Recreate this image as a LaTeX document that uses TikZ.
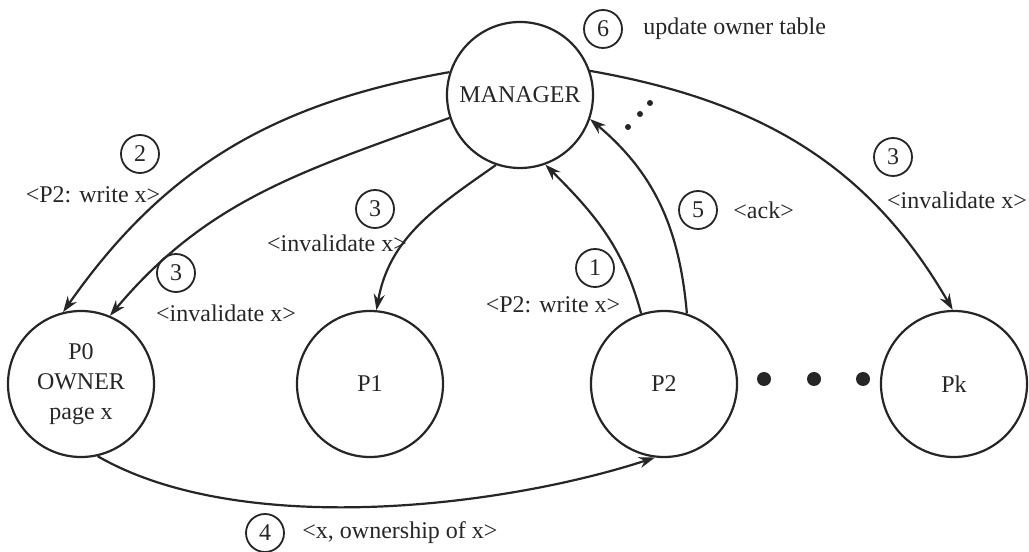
\documentclass[tikz,border=0pt]{standalone}
\usepackage{fontspec}
\setmainfont{Liberation Serif}
\usepackage{xcolor}
\usetikzlibrary{arrows.meta}

\tikzset{proc/.style={draw, circle, line width=1.1pt, minimum size=73pt, inner sep=0pt, align=center, font=\fontsize{12}{15}\selectfont},
num/.style={draw, circle, line width=0.9pt, minimum size=19pt, inner sep=0pt, font=\fontsize{12}{14}\selectfont},
msg/.style={inner sep=0pt, font=\fontsize{12}{14}\selectfont},
arr/.style={-{Stealth[length=8pt,width=5.5pt]}, line width=1.1pt}}

\begin{document}
\begin{tikzpicture}[x=0.5pt,y=0.5pt,black!85]
\useasboundingbox (0,0) rectangle (1029,552);

\node[proc] (mgr) at (520,457) {MANAGER};
\node[proc] (p0) at (81,168) {P0\\OWNER\\page x};
\node[proc] (p1) at (370,168) {P1};
\node[proc] (p2) at (664,168) {P2};
\node[proc] (pk) at (954,168) {Pk};

\fill (764,173) circle (7);
\fill (814,173) circle (7);
\fill (863,173) circle (7);

\fill (650,449) circle (3);
\fill (640,438) circle (3);
\fill (628,425) circle (3);


\draw[arr] (mgr.162) to[out=190,in=55] (p0.104);
\draw[arr] (mgr.198) to[out=200,in=50] (p0.67);
\draw[arr] (mgr.251) to[out=215,in=80] (p1.85);
\draw[arr] (p2.108) to[out=105,in=-45] (mgr.290);
\draw[arr] (p2.72) to[out=95,in=-40] (mgr.341);
\draw[arr] (mgr.19) to[out=-10,in=120] (pk.91);
\draw[arr] (p0.283) to[out=-30,in=198,looseness=0.75] (p2.263);

\node[num] (n1) at (595,284) {1};
\node[msg] (m1) at (553,247) {<P2: write x>};

\node[num] (n2) at (140,398) {2};
\node[msg] (m2) at (93,357) {<P2: write x>};

\node[num] (n3a) at (176,279) {3};
\node[msg] (m3a) at (226,239) {<invalidate x>};

\node[num] (n3b) at (375,343) {3};
\node[msg] (m3b) at (337,309) {<invalidate x>};

\node[num] (n3c) at (893,395) {3};
\node[msg] (m3c) at (957,352) {<invalidate x>};

\node[num] (n4) at (265,19) {4};
\node[msg, anchor=west] (m4) at (302,19) {<x, ownership of x>};

\node[num] (n5) at (698,342) {5};
\node[msg, anchor=west] (m5) at (733,342) {<ack>};

\node[num] (n6) at (603,523) {6};
\node[msg, anchor=west] (m6) at (643,523) {update owner table};

\end{tikzpicture}
\end{document}
